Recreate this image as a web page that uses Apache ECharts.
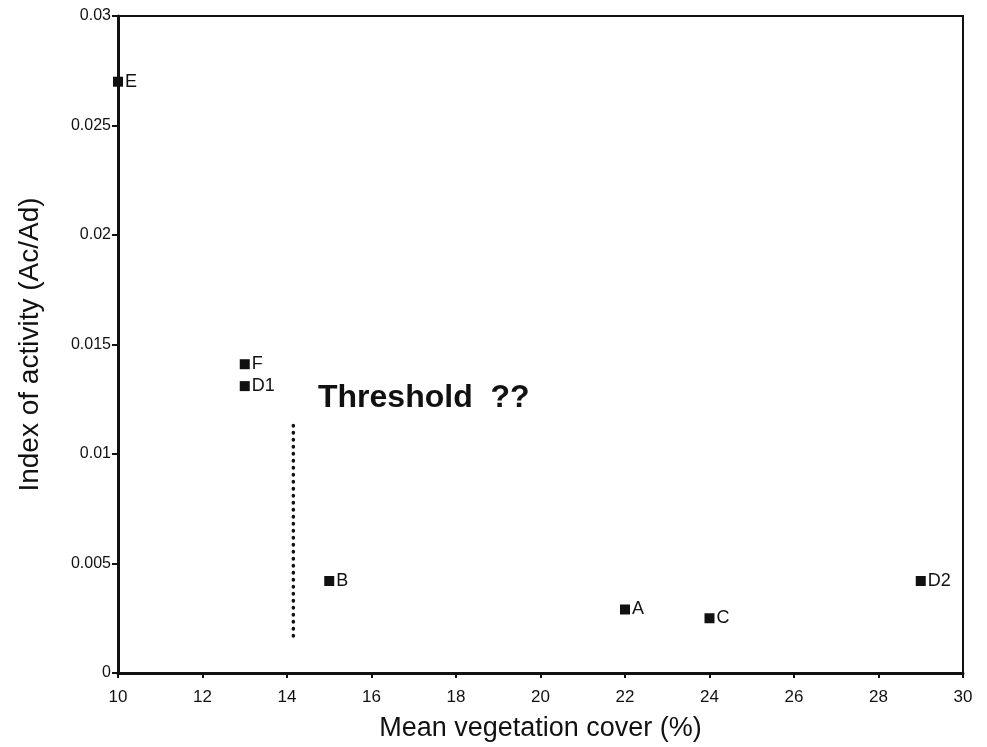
<!DOCTYPE html>
<html>
<head>
<meta charset="utf-8">
<script src="https://cdn.jsdelivr.net/npm/echarts@6/dist/echarts.min.js"></script>
<style>
  html, body { margin: 0; padding: 0; background: #fff; }
  #main { width: 987px; height: 747px; }
</style>
</head>
<body>
<div id="main"></div>
<script>
// sites: mean vegetation cover (%) vs index of activity
var siteNames = ['E', 'F', 'D1', 'B', 'A', 'C', 'D2'];
var vegCover = [10, 13, 13, 15, 22, 24, 29];
var activity = [0.027, 0.0141, 0.0131, 0.0042, 0.0029, 0.0025, 0.0042];

// threshold marker (dotted vertical line)
var thresholdX = [14.15, 14.15];
var thresholdY = [0.0113, 0.0016];

var xTicks = ['10', '12', '14', '16', '18', '20', '22', '24', '26', '28', '30'];
var yTicks = ['0', '0.005', '0.01', '0.015', '0.02', '0.025', '0.03'];

var chart = (function () {
    var Return = {
        init: function () {
            initChart();
        }
    }
    var initChart = function () {
        var myChart = echarts.init(document.getElementById('main'));
        var pts = [];
        for (var i = 0; i < siteNames.length; i++) {
            pts.push({ name: siteNames[i], value: [vegCover[i], activity[i]] });
        }
        var line = [];
        for (var j = 0; j < thresholdX.length; j++) {
            line.push([thresholdX[j], thresholdY[j]]);
        }
        var option = {
            backgroundColor: '#fff',
            animation: false,
            textStyle: { fontFamily: 'Liberation Sans', color: '#111' },
            grid: {
                left: 118,
                right: 24,
                top: 16,
                bottom: 70,
                show: true,
                borderColor: '#111',
                borderWidth: 2
            },
            xAxis: {
                type: 'value',
                min: 10,
                max: 30,
                interval: 2,
                name: 'Mean vegetation cover (%)',
                nameLocation: 'middle',
                nameGap: 42,
                nameTextStyle: { fontSize: 27, color: '#111', fontFamily: 'Liberation Sans' },
                axisLine: { show: true, onZero: false, lineStyle: { color: '#111', width: 3 } },
                axisTick: { show: true, inside: false, length: 5, lineStyle: { color: '#111', width: 2 } },
                axisLabel: {
                    fontSize: 17,
                    color: '#111',
                    margin: 16,
                    formatter: function (v) {
                        return xTicks[Math.round((v - 10) / 2)];
                    }
                },
                splitLine: { show: false }
            },
            yAxis: {
                type: 'value',
                min: 0,
                max: 0.03,
                interval: 0.005,
                name: 'Index of activity (Ac/Ad)',
                nameLocation: 'middle',
                nameGap: 74,
                nameTextStyle: { fontSize: 28, color: '#111', fontFamily: 'Liberation Sans' },
                axisLine: { show: true, onZero: false, lineStyle: { color: '#111', width: 3 } },
                axisTick: { show: true, inside: false, length: 6, lineStyle: { color: '#111', width: 2 } },
                axisLabel: {
                    fontSize: 16,
                    color: '#111',
                    margin: 7,
                    formatter: function (v) {
                        return yTicks[Math.round(v / 0.005)];
                    }
                },
                splitLine: { show: false }
            },
            graphic: [{
                type: 'text',
                left: 318,
                top: 382,
                style: {
                    text: 'Threshold  ??',
                    font: 'bold 32px "Liberation Sans"',
                    fill: '#111'
                }
            }],
            series: [
                {
                    type: 'scatter',
                    data: pts,
                    symbol: 'rect',
                    symbolSize: 10,
                    clip: false,
                    itemStyle: { color: '#111', opacity: 1 },
                    label: {
                        show: true,
                        position: 'right',
                        distance: 2,
                        formatter: '{b}',
                        fontSize: 18,
                        color: '#111',
                        opacity: 1
                    },
                    z: 3
                },
                {
                    type: 'line',
                    data: line,
                    symbol: 'none',
                    lineStyle: {
                        color: '#111',
                        width: 3.5,
                        type: [0.5, 6.5],
                        cap: 'round'
                    },
                    z: 2
                }
            ]
        };
        myChart.setOption(option);
    }
    return Return;
})();

; (function () {
    chart.init();
})();
</script>
</body>
</html>
